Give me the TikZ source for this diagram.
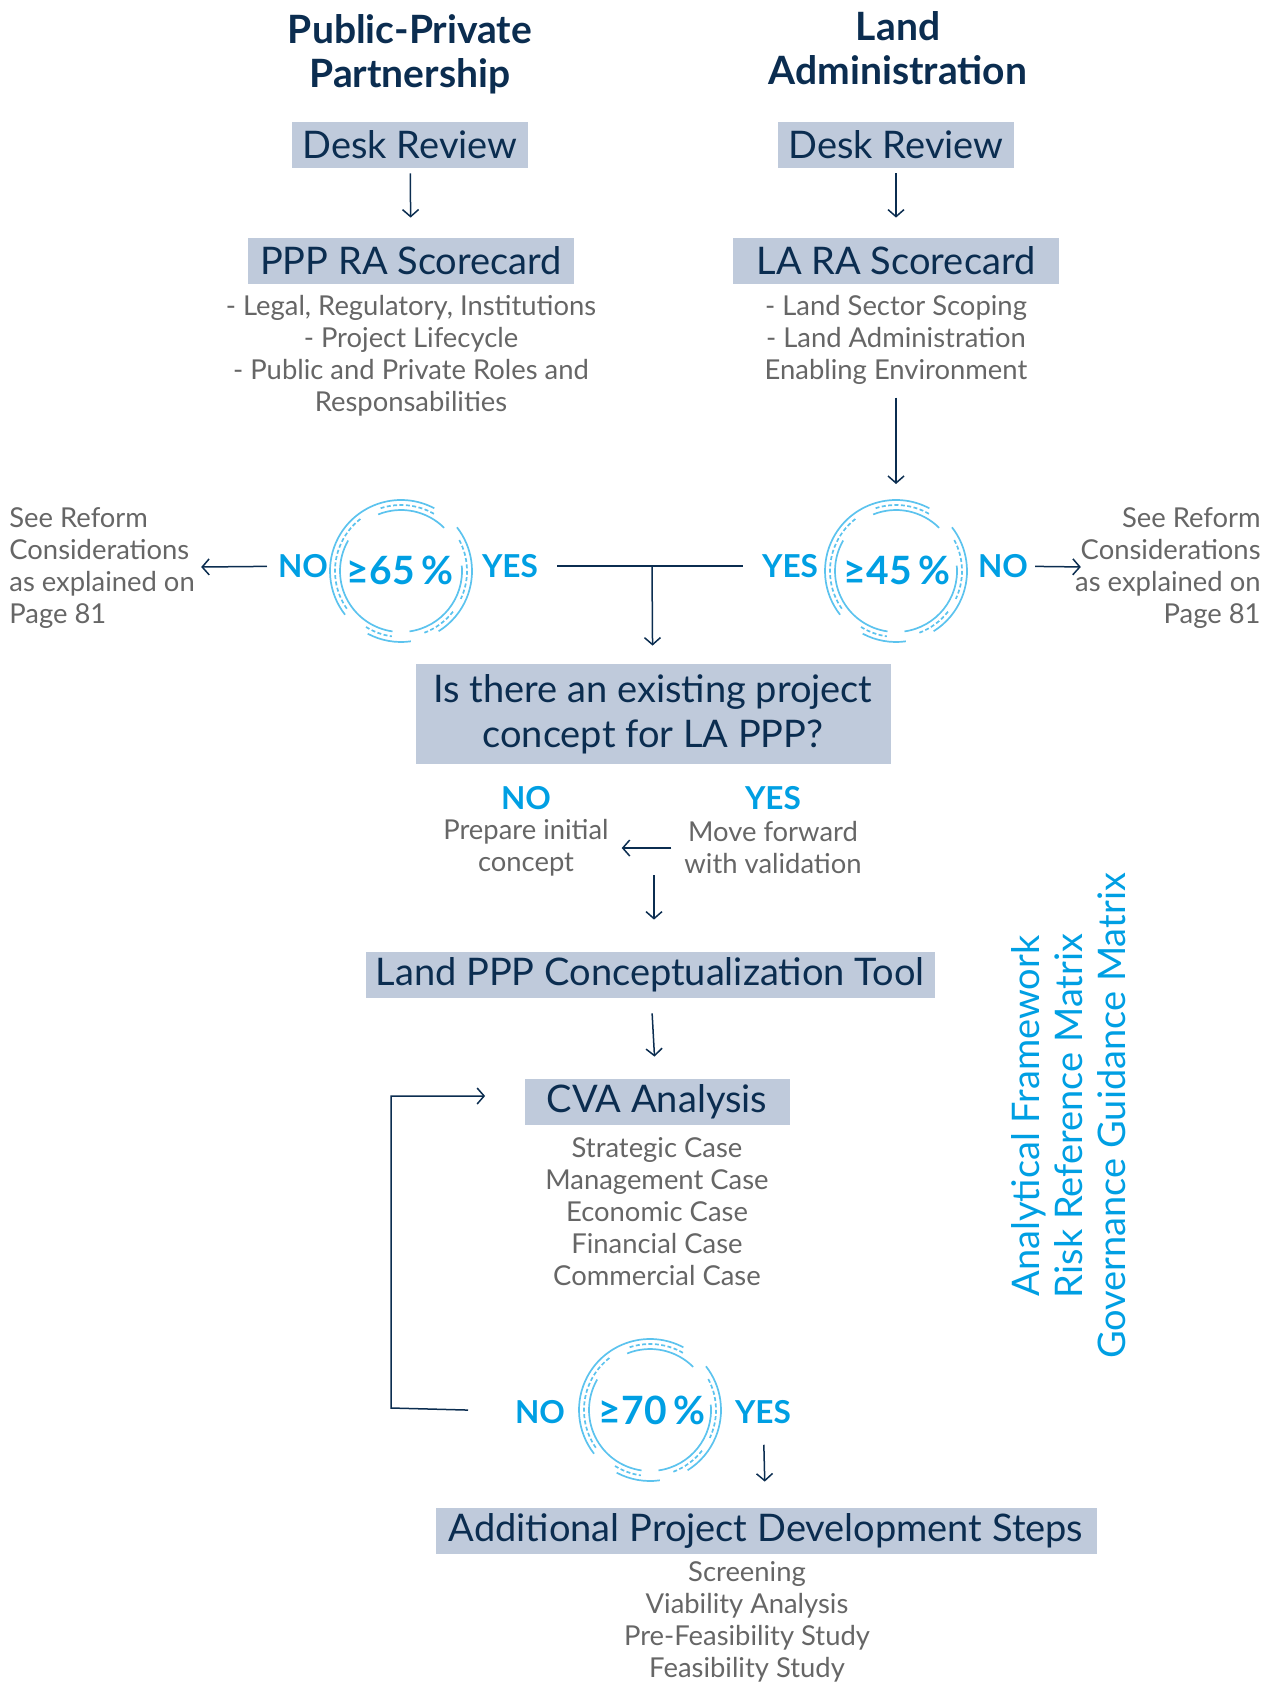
\documentclass[tikz,border=0pt]{standalone}
\usepackage{fontspec}
\setmainfont{Lato}
\usetikzlibrary{arrows.meta,positioning}

\definecolor{navy}{HTML}{0B2D50}
\definecolor{boxfill}{HTML}{BFCADB}
\definecolor{greytext}{HTML}{666666}
\definecolor{cyanblue}{HTML}{009FE3}
\definecolor{ringblue}{HTML}{5CC3EE}

\tikzset{
  heading/.style={text=navy, align=center, font=\bfseries\fontsize{19.5}{22}\selectfont},
  box/.style={fill=boxfill, text=navy, minimum height=23pt, inner sep=0pt, font=\fontsize{19}{22}\selectfont},
  listtext/.style={text=greytext, align=center, font=\fontsize{13.7}{16}\selectfont},
  answer/.style={text=cyanblue, font=\bfseries\fontsize{15.8}{18}\selectfont},
  pct/.style={text=cyanblue, font=\bfseries\fontsize{19.5}{20}\selectfont},
  link/.style={draw=navy, line width=0.75pt},
  flow/.style={link, -{Straight Barb[length=3.5pt,width=8pt]}},
}

% ring of arcs round a percentage
\newcommand{\gauge}[1]{%
  \begin{scope}[shift={(#1)}, x=1pt, y=1pt, ringblue, line width=0.85pt]
    \draw (62:35.5) arc[start angle=62, end angle=218, radius=35.5];
    \draw (242:35.5) arc[start angle=242, end angle=278, radius=35.5];
    \draw (38:35.5) arc[start angle=38, end angle=-58, radius=35.5];
    \draw[dash pattern=on 2pt off 1.2pt] (108:33) arc[start angle=108, end angle=60, radius=33];
    \draw[dash pattern=on 2pt off 1.2pt] (128:33) arc[start angle=128, end angle=215, radius=33];
    \draw[dash pattern=on 2pt off 1.2pt] (238:33) arc[start angle=238, end angle=262, radius=33];
    \draw[dash pattern=on 2pt off 1.2pt] (28:33) arc[start angle=28, end angle=-25, radius=33];
    \draw[dash pattern=on 2pt off 1.2pt] (-38:33) arc[start angle=-38, end angle=-70, radius=33];
    \draw (112:30.5) arc[start angle=112, end angle=45, radius=30.5];
    \draw (150:30.5) arc[start angle=150, end angle=262, radius=30.5];
    \draw (5:30.5) arc[start angle=5, end angle=-82, radius=30.5];
  \end{scope}}

\begin{document}
\begin{tikzpicture}[x=0.5pt, y=-0.5pt]
  \useasboundingbox (0,0) rectangle (1270,1685);

  % column headings
  \node[heading] (ppptitle) at (410,54) {Public-Private\\Partnership};
  \node[heading] (latitle) at (898,48) {Land\\Administration};

  % desk reviews and scorecards
  \node[box, minimum width=118pt] (deskppp) at (410,145) {Desk Review};
  \node[box, minimum width=118pt] (deskla) at (896,145) {Desk Review};
  \node[box, minimum width=163pt] (scoreppp) at (411,261) {PPP RA Scorecard};
  \node[box, minimum width=163pt] (scorela) at (896,261) {LA RA Scorecard};
  \node[listtext] (listppp) at (411,356) {- Legal, Regulatory, Institutions\\- Project Lifecycle\\- Public and Private Roles and\\Responsabilities};
  \node[listtext] (listla) at (896,340) {- Land Sector Scoping\\- Land Administration\\Enabling Environment};

  % first thresholds
  \coordinate (ring1) at (401,571);
  \coordinate (ring2) at (896,571);
  \gauge{ring1}
  \gauge{ring2}
  \node[pct] (pct1) at (400,570) {≥65\,\%};
  \node[pct] (pct2) at (897,570) {≥45\,\%};
  \node[answer] (no1) at (303,566) {NO};
  \node[answer] (yes1) at (510,566) {YES};
  \node[answer] (yes2) at (790,566) {YES};
  \node[answer] (no2) at (1003,566) {NO};
  \node[listtext, align=left, anchor=west, inner xsep=0pt] (seeleft) at (9,568) {See Reform\\Considerations\\as explained on\\Page 81};
  \node[listtext, align=right, anchor=east, inner xsep=0pt] (seeright) at (1261,568) {See Reform\\Considerations\\as explained on\\Page 81};

  % project concept
  \node[box, minimum width=237.5pt, minimum height=50pt, align=center, font=\fontsize{19}{22.5}\selectfont] (question) at (653,714) {Is there an existing project\\concept for LA PPP?};
  \node[answer] (noconcept) at (526,798) {NO};
  \node[answer] (yesconcept) at (773,798) {YES};
  \node[listtext] (prepare) at (526,848) {Prepare initial\\concept};
  \node[listtext] (moveon) at (773,848) {Move forward\\with validation};
  \coordinate (join) at (652,566);
  \coordinate (fork) at (654,875);

  % conceptualization and CVA
  \node[box, minimum width=284.5pt] (tool) at (650,975) {Land PPP Conceptualization Tool};
  \node[box, minimum width=132.5pt] (cva) at (657,1102) {CVA Analysis};
  \node[listtext] (cases) at (657,1212) {Strategic Case\\Management Case\\Economic Case\\Financial Case\\Commercial Case};
  \coordinate (ring3) at (650,1410);
  \gauge{ring3}
  \node[pct] (pct3) at (652,1410) {≥70\,\%};
  \node[answer] (no3) at (540,1412) {NO};
  \node[answer] (yes3) at (763,1412) {YES};
  \coordinate (loop) at (391,1408);
  \node[box, minimum width=330.5pt] (steps) at (766,1531) {Additional Project Development Steps};
  \node[listtext] (stepslist) at (747,1622) {Screening\\Viability Analysis\\Pre-Feasibility Study\\Feasibility Study};

  % side tools
  \node[rotate=90, align=center, text=cyanblue, font=\fontsize{19}{21.5}\selectfont] (toolkit) at (1069,1116) {Analytical Framework\\Risk Reference Matrix\\Governance Guidance Matrix};

  % connectors
  \draw[flow, shorten <=2.5pt, shorten >=10pt] (deskppp) -- (scoreppp);
  \draw[flow, shorten <=2.5pt, shorten >=10pt] (deskla) -- (scorela);
  \draw[flow, shorten <=3pt, shorten >=43.5pt] (listla) -- (ring2);
  \draw[flow, shorten <=2pt, shorten >=3pt] (no1) -- (seeleft);
  \draw[flow, shorten <=0pt, shorten >=-3pt] (no2) -- (seeright);
  \draw[link, shorten <=6pt, shorten >=6pt] (yes1) -- (yes2);
  \draw[flow, shorten >=9pt] (join) -- (question);
  \draw[flow, shorten <=3pt, shorten >=3pt] (moveon) -- (prepare);
  \draw[flow, shorten >=16pt] (fork) -- (fork |- tool.north);
  \draw[flow, shorten <=7.5pt, shorten >=11pt] (tool) -- (cva);
  \draw[flow, shorten <=20pt, shorten >=19.5pt] (no3) -- (loop) |- ([yshift=3pt]cva.west);
  \draw[flow, shorten <=7pt, shorten >=13pt] (yes3) -- (steps);
\end{tikzpicture}
\end{document}
